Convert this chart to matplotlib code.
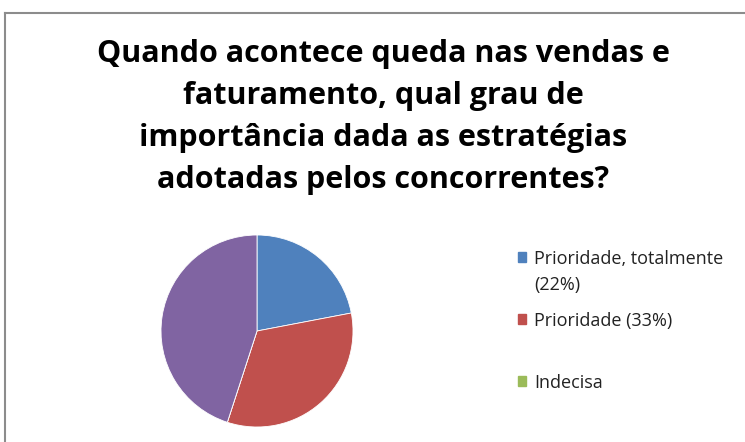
import matplotlib.pyplot as plt
from matplotlib.patches import Rectangle
from matplotlib.lines import Line2D

W, H = 745, 442
DPI = 100

# data
labels = ['Prioridade, totalmente\n(22%)', 'Prioridade (33%)', 'Indecisa']
values = [22, 33, 0, 45]
colors = ['#4F81BD', '#C0504D', '#9BBB59', '#8064A2']
title_lines = ['Quando acontece queda nas vendas e',
               'faturamento, qual grau de',
               'importância dada as estratégias',
               'adotadas pelos concorrentes?']

plt.rcParams['font.family'] = ['Open Sans', 'DejaVu Sans']

fig = plt.figure(figsize=(W / DPI, H / DPI), dpi=DPI)

def fx(px):
    return px / W

def fy(py):
    return 1 - py / H

# chart area border (only top and left visible)
border = dict(color='#8c8c8c', lw=1.5)
fig.add_artist(Line2D([fx(5), fx(5)], [fy(13), 0], transform=fig.transFigure, **border))
fig.add_artist(Line2D([fx(5), 1], [fy(13), fy(13)], transform=fig.transFigure, **border))

# title
for i, line in enumerate(title_lines):
    fig.text(fx(383), fy(62 + 42 * i), line, ha='center', va='baseline',
             fontsize=22, fontweight='bold', color='black')

# pie
cx, cy, r = 257, 331, 96
ax = fig.add_axes([fx(cx - r), fy(cy + r), 2 * r / W, 2 * r / H])
ax.pie(values, colors=colors, startangle=90, counterclock=False,
       wedgeprops=dict(edgecolor='white', linewidth=0.6))
ax.set_xlim(-1, 1)
ax.set_ylim(-1, 1)
ax.set_axis_off()

# legend (the fourth entry lies below the visible area)
for i, (lab, col) in enumerate(zip(labels, colors)):
    y0 = 257 + 62 * i
    fig.add_artist(Rectangle((fx(518), fy(y0 + 5)), 8 / W, 10 / H,
                             transform=fig.transFigure, color=col))
    fig.text(fx(534), fy(y0 - 7), lab, ha='left', va='top', fontsize=13,
             color='#222222', linespacing=1.55,
             transform=fig.transFigure)

fig.savefig('out.png', dpi=DPI)
